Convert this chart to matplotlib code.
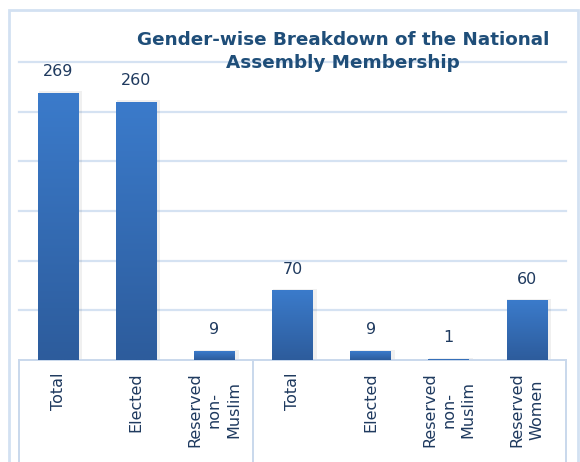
import matplotlib
matplotlib.use("Agg")
import matplotlib.pyplot as plt
import numpy as np
from matplotlib.patches import Rectangle
from matplotlib.colors import LinearSegmentedColormap
import matplotlib.transforms as mtransforms

categories = ["Total", "Elected", "Reserved\nnon-\nMuslim",
              "Total", "Elected", "Reserved\nnon-\nMuslim", "Reserved\nWomen"]
values = [269, 260, 9, 70, 9, 1, 60]
group_bounds = [-0.5, 2.5, 6.5]
title = "Gender-wise Breakdown of the National\nAssembly Membership"

plt.rcParams['font.family'] = ['DejaVu Sans']
W, H = 580, 462
fig = plt.figure(figsize=(W / 100, H / 100), dpi=100)
ax = fig.add_axes([19 / W, 1 - 360 / H, (566 - 19) / W, (360 - 62) / H])

x = np.arange(len(categories))
bars = ax.bar(x, values, width=0.52, color="#3470B8", zorder=3)

cmap = LinearSegmentedColormap.from_list("g", ["#2D5C9C", "#3B7BCB"])
grad = np.linspace(0, 1, 256).reshape(-1, 1)
for b in bars:
    bx, by = b.get_x(), b.get_y()
    bw, bh = b.get_width(), b.get_height()
    sh = Rectangle((bx + 0.01, by), bw + 0.04, bh + 1.5, facecolor="#000000",
                   alpha=0.06, zorder=2, linewidth=0)
    ax.add_patch(sh)
    im = ax.imshow(grad, extent=(bx, bx + bw, by, by + bh), origin="lower",
                   cmap=cmap, aspect="auto", zorder=4)
    im.set_clip_path(b)

ax.bar_label(bars, padding=10, fontsize=11.5, color="#1F3A5F", zorder=5)

ax.set_xlim(-0.5, 6.5)
ax.set_ylim(0, 300)
ax.set_yticks(np.arange(50, 301, 50))
ax.yaxis.grid(True, color="#D5E2F2", linewidth=1.6, zorder=0)
for gl in ax.get_ygridlines():
    gl.set_clip_on(False)
ax.tick_params(axis="y", left=False, labelleft=False)
ax.set_xticks(x)
ax.set_xticklabels(categories, rotation=90, va="top", ha="center",
                   multialignment="center", fontsize=11.5, color="#1F3A5F",
                   linespacing=1.35)
ax.tick_params(axis="x", length=0, pad=9)
for s in ["top", "right", "left"]:
    ax.spines[s].set_visible(False)
ax.spines["bottom"].set_color("#C9D8EC")
ax.spines["bottom"].set_linewidth(1.4)

trans = mtransforms.blended_transform_factory(ax.transData, ax.transAxes)
for gb in group_bounds:
    ax.plot([gb, gb], [0, -0.4], transform=trans, clip_on=False,
            color="#C9D8EC", linewidth=1.4)

fig.patches.append(Rectangle((9 / W, -0.05), (578 - 9) / W, 1.05 - 10 / H,
                             transform=fig.transFigure, fill=False,
                             edgecolor="#D3E1F2", linewidth=2))

fig.text(343 / W, 1 - 51.5 / H, title, ha="center", va="center",
         multialignment="center", fontsize=13.2, fontweight="bold",
         color="#1F4E79", linespacing=1.35, zorder=10)

fig.savefig("out.png", dpi=100)
